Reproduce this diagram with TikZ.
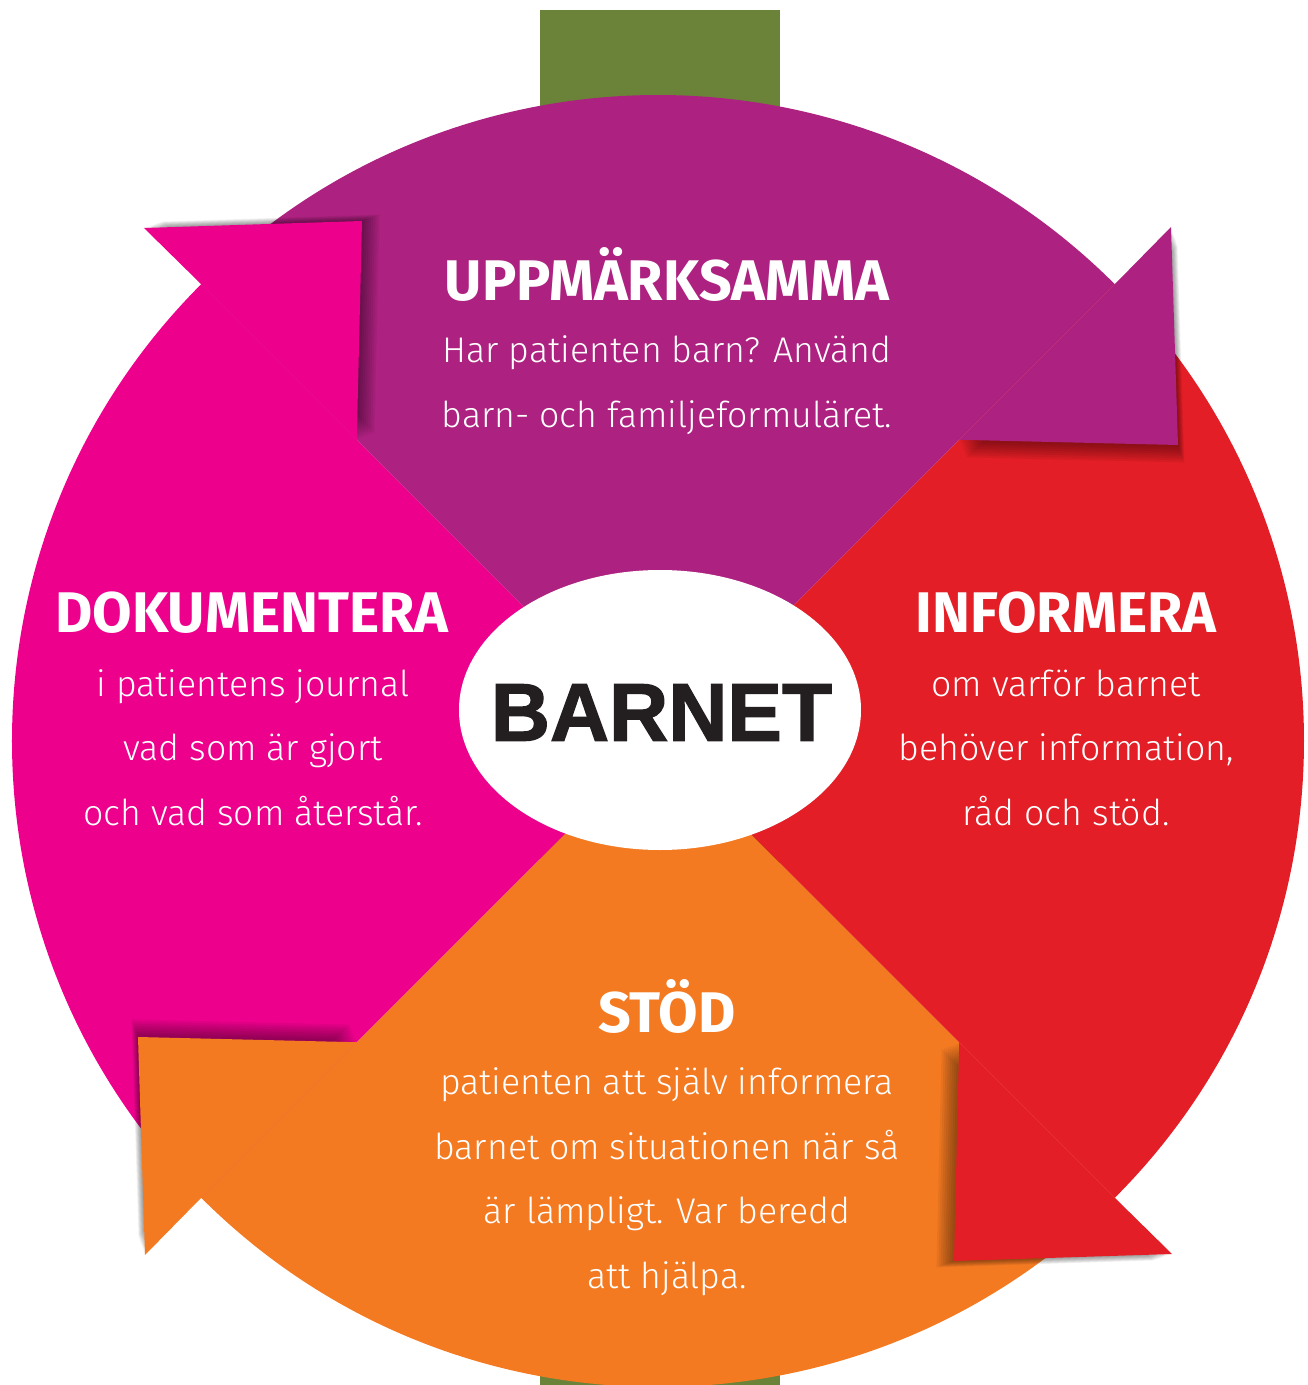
\documentclass[tikz,border=0pt]{standalone}
\usepackage{fontspec}
\setmainfont{Fira Sans Light}[BoldFont={Fira Sans Bold}]
\newfontfamily\barnetfont{Liberation Sans Bold}[FakeBold=1.6]
\usetikzlibrary{shapes.geometric}

\definecolor{uppColor}{RGB}{173,33,128}
\definecolor{dokColor}{RGB}{236,0,140}
\definecolor{infColor}{RGB}{227,30,38}
\definecolor{stodColor}{RGB}{244,122,34}
\definecolor{stemColor}{RGB}{107,131,56}
\definecolor{barnetInk}{RGB}{35,31,32}

\begin{document}
\begin{tikzpicture}[
        heading/.style = {anchor=base, text=white, inner sep=0pt,
                font=\fontsize{16.3}{19}\selectfont\bfseries},
        body/.style = {anchor=base, text=white, align=center, inner sep=0pt,
                font=\fontsize{10.15}{18.35}\selectfont},
        centre/.style = {ellipse, fill=white, inner sep=0pt,
                minimum width=4.02cm, minimum height=2.80cm},
        centreText/.style = {text=barnetInk, inner sep=0pt,
                font=\barnetfont\fontsize{23.3}{28}\selectfont}]

    \useasboundingbox (-6.58,-6.44) rectangle (6.50,7.41);

    % stem behind the wheel
    \fill[stemColor] (-1.18,-6.44) rectangle (1.22,7.31);

    % the four quarters
    \foreach \ang/\col in {0/uppColor, 90/dokColor, 180/stodColor, 270/infColor}
        \fill[\col, rotate=\ang] (0,0) -- (45:6.46)
            arc[start angle=45, end angle=135, radius=6.46] -- cycle;

    % arrow heads, each with a soft shadow
    \foreach \ang/\col in {0/uppColor, 90/dokColor, 180/stodColor, 270/infColor} {
        \begin{scope}[rotate=\ang]
            \foreach \k in {1,...,8}
                \fill[black, opacity=0.055, xshift={\k*0.08mm}, yshift={-\k*0.22mm}]
                    (45:4.26) -- (5.20,2.96) -- (5.13,5.14) -- (45:6.46) -- cycle;
            \fill[\col] (45:4.26) -- (5.20,2.96) -- (5.13,5.14) -- (45:6.46) -- cycle;
        \end{scope}
    }

    \node[centre] (barnet) at (0.02,0.31) {};
    \node[centreText] (barnetLabel) at (0.035,0.285) {BARNET};

    % Uppmärksamma
    \node[heading] (uppHead) at (0.09,4.40) {UPPMÄRKSAMMA};
    \node[body]    (uppText) at (0.09,3.14) {Har patienten barn? Använd\\
        barn- och familjeformuläret.};

    % Dokumentera
    \node[heading] (dokHead) at (-4.06,1.09) {DOKUMENTERA};
    \node[body]    (dokText) at (-4.05,-0.84) {i patientens journal\\
        vad som är gjort\\och vad som återstår.};

    % Informera
    \node[heading] (infHead) at (4.08,1.09) {INFORMERA};
    \node[body]    (infText) at (4.08,-0.84) {om varför barnet\\
        behöver information,\\råd och stöd.};

    % Stöd
    \node[heading] (stodHead) at (0.09,-2.91) {STÖD};
    \node[body]    (stodText) at (0.09,-5.47) {patienten att själv informera\\
        barnet om situationen när så\\är lämpligt. Var beredd\\att hjälpa.};
\end{tikzpicture}
\end{document}
